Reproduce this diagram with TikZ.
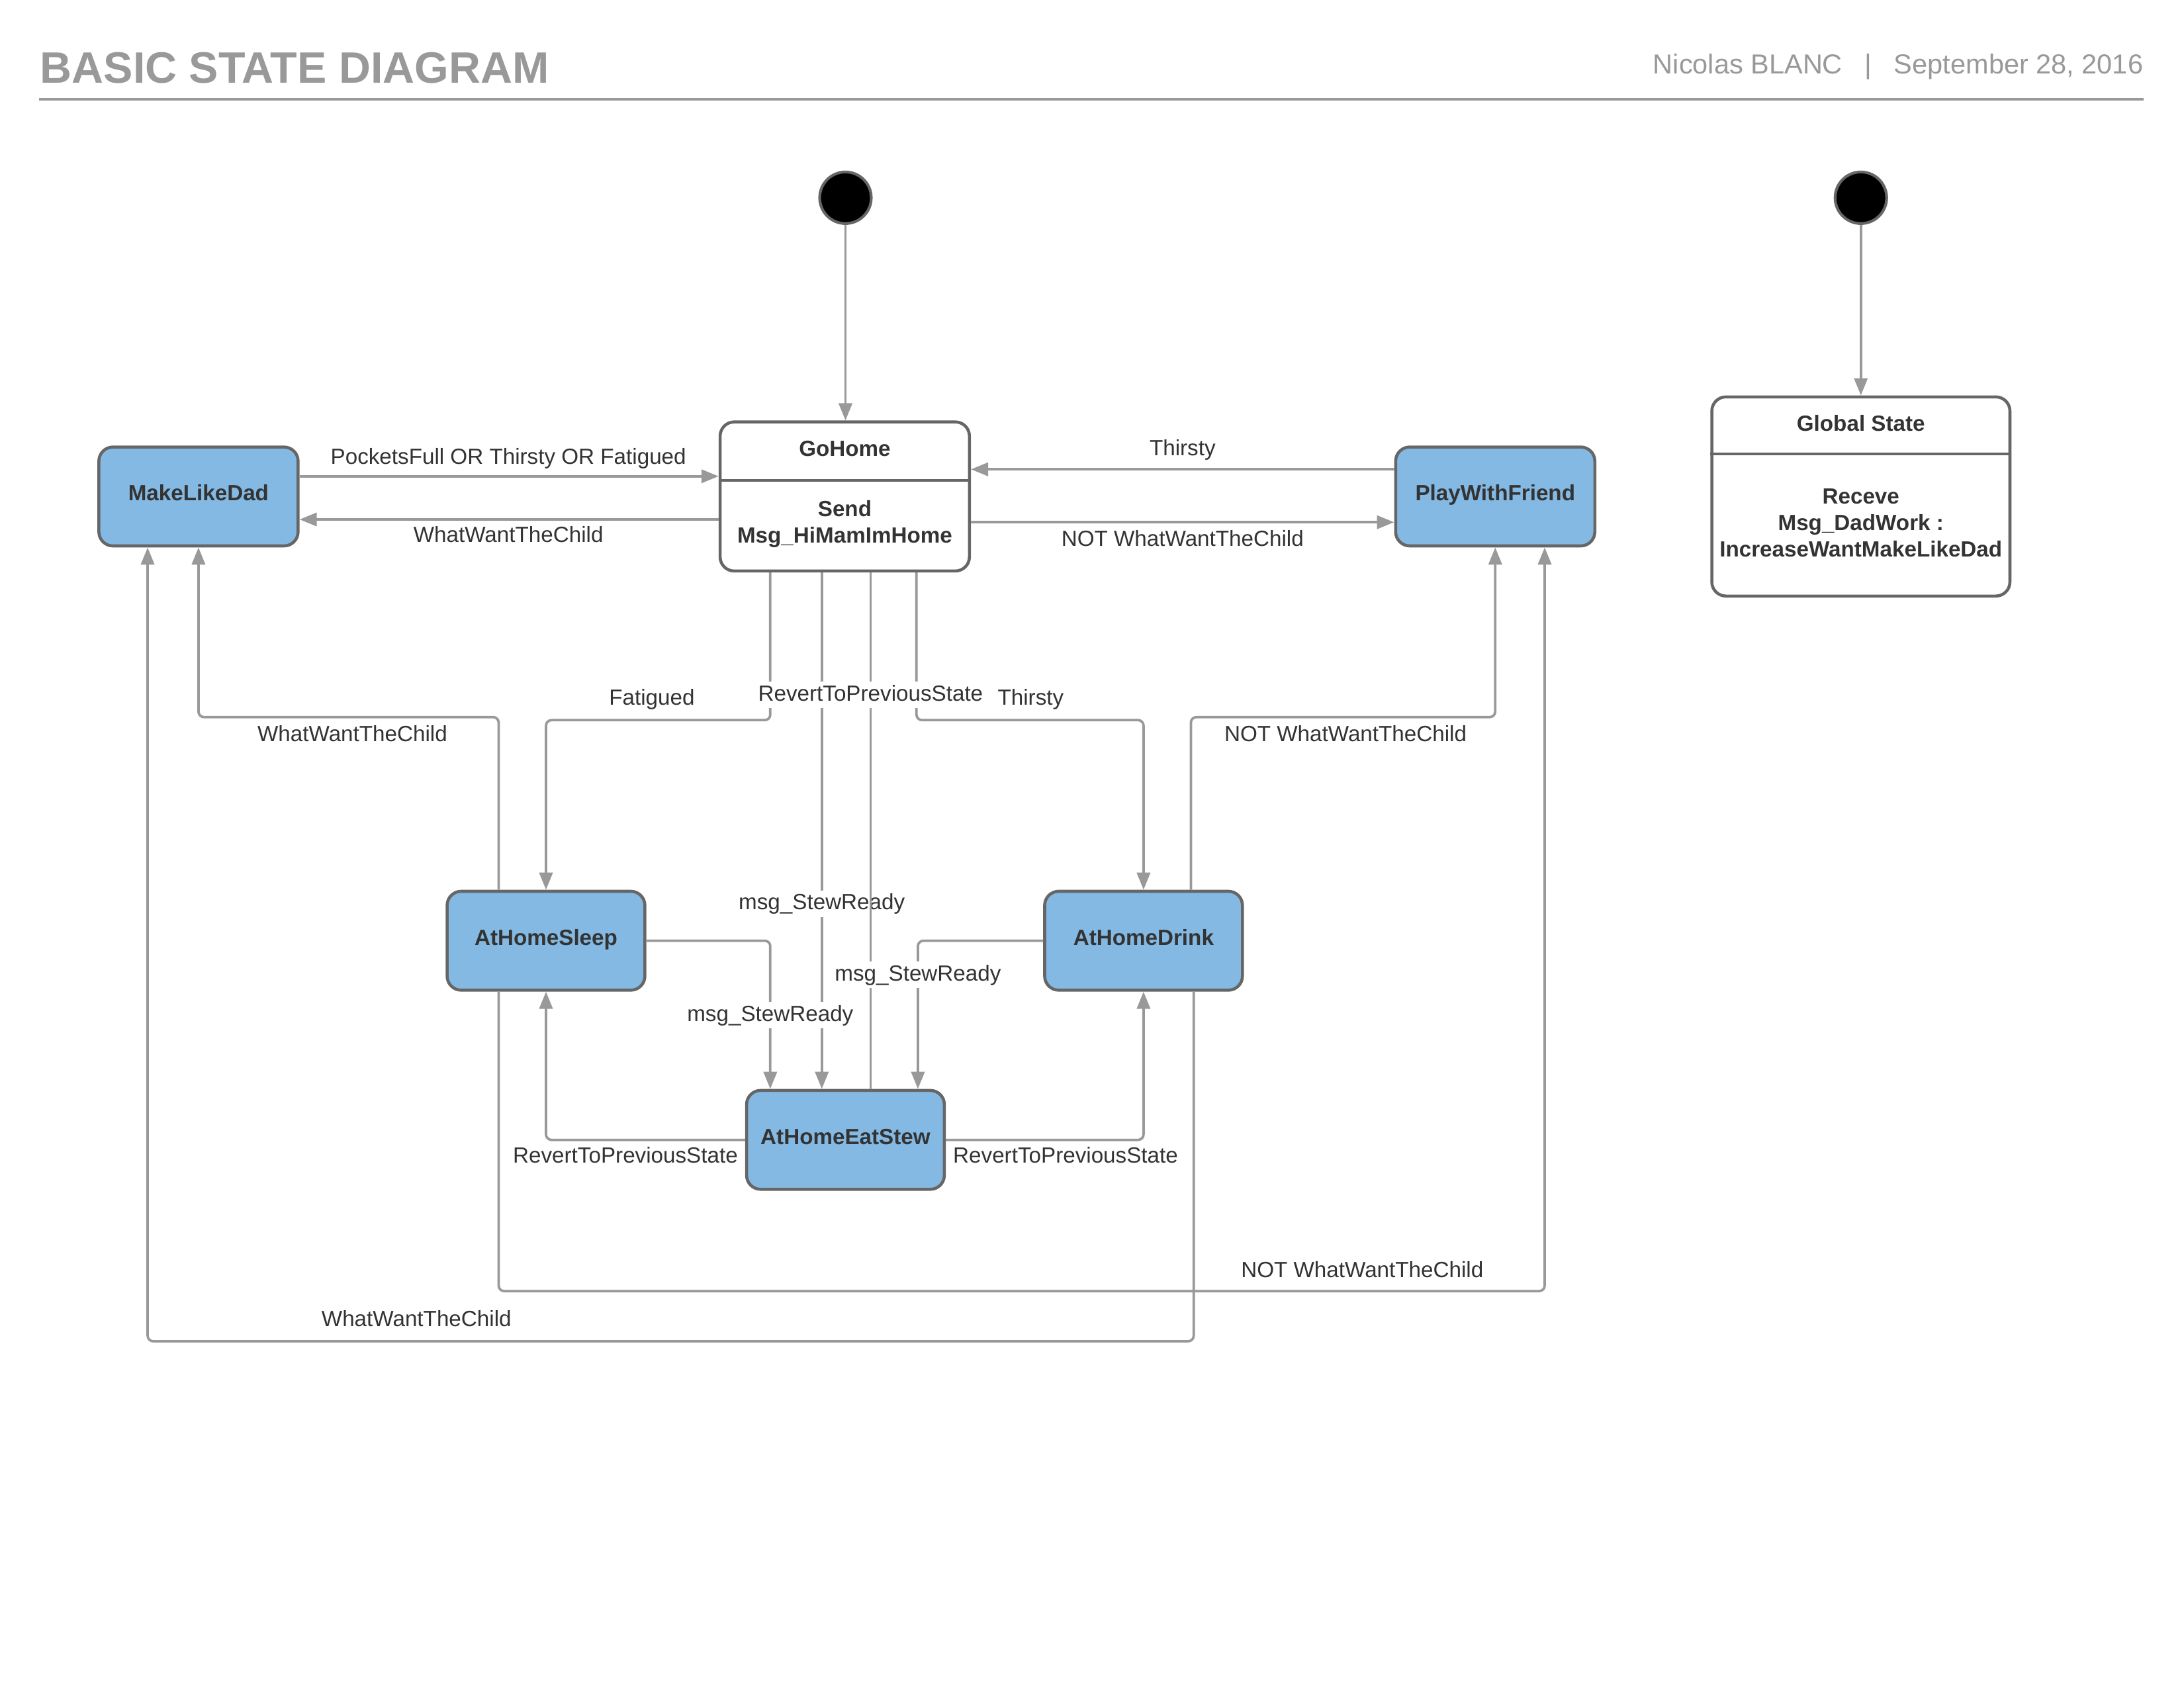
\documentclass[tikz,border=0pt]{standalone}
\usepackage{fontspec}
\setmainfont{Liberation Sans}
\usetikzlibrary{arrows.meta,calc}
\definecolor{conn}{HTML}{999999}
\definecolor{edge}{HTML}{666666}
\definecolor{statefill}{HTML}{83B9E3}
\definecolor{ink}{HTML}{333333}
\definecolor{head}{HTML}{999999}

\begin{document}
\begin{tikzpicture}[x=0.17818mm,y=-0.17818mm,
  line join=round,
  state/.style={draw=edge, line width=1.1pt, fill=statefill, rounded corners=1.8mm,
    inner sep=0pt, minimum height=12.65mm, font=\bfseries\fontsize{8}{9.6}\selectfont, text=ink,
    text height=5.8pt, text depth=2.6pt},
  panel/.style={draw=edge, line width=1.1pt, fill=white, rounded corners=1.8mm, inner sep=0pt},
  ptext/.style={font=\bfseries\fontsize{8}{9.6}\selectfont, text=ink, align=center, inner sep=0pt},
  trans/.style={draw=conn, line width=0.9pt, rounded corners=0.7mm,
    -{Triangle[length=2.2mm,width=1.7mm]}},
  plain/.style={draw=conn, line width=0.9pt, rounded corners=0.7mm},
  lbl/.style={font=\fontsize{8}{9.6}\selectfont, text=ink, fill=white, inner sep=1pt,
    text height=6pt, text depth=1.7pt, yshift=-1pt},
  start/.style={circle, fill=black, draw=edge, line width=1pt, minimum size=6.6mm, inner sep=0pt}]

\useasboundingbox (0,0) rectangle (1568,1212);

% header
\node[anchor=base west, inner sep=0pt, text=head, font=\bfseries\fontsize{16}{19}\selectfont]
  (ttl) at (28.5,59.4) {BASIC STATE DIAGRAM};
\node[anchor=base east, inner sep=0pt, text=head, font=\fontsize{10}{12}\selectfont]
  (date) at (1539,53.2) {September 28, 2016};
\node[anchor=base, inner sep=0pt, text=head, font=\fontsize{10}{12}\selectfont]
  (sep) at (1341.5,53.2) {|};
\node[anchor=base west, inner sep=0pt, text=head, font=\fontsize{10}{12}\selectfont]
  (author) at (1186.5,53.2) {Nicolas BLANC};
\draw[head, line width=1pt] (28,71.3) coordinate (r1) -- (1539,71.3) coordinate (r2);

% initial pseudo-states
\node[start] (i1) at (607,142) {};
\node[start] (i2) at (1336,142) {};

% composite boxes
\node[panel, minimum width=31.89mm, minimum height=19.07mm] (gohome) at (606.5,356.5) {};
\draw[edge, line width=1.1pt] ($(gohome.north west)+(0,43)$) coordinate (gd1) -- ($(gohome.north east)+(0,43)$) coordinate (gd2);
\node[ptext] (gohomeT) at (606.5,322) {GoHome};
\node[ptext] (gohomeB) at (606.5,376.5) {Send\\Msg\_HiMamImHome};

\node[panel, minimum width=38.13mm, minimum height=25.48mm] (global) at (1336,356.5) {};
\draw[edge, line width=1.1pt] ($(global.north west)+(0,42)$) coordinate (gs1) -- ($(global.north east)+(0,42)$) coordinate (gs2);
\node[ptext] (globalT) at (1336,304) {Global State};
\node[ptext] (globalB) at (1336,375.5) {Receve\\Msg\_DadWork :\\IncreaseWantMakeLikeDad};

% simple states
\node[state, minimum width=25.48mm] (mld) at (142.5,356.5) {MakeLikeDad};
\node[state, minimum width=25.48mm] (pwf) at (1073.5,356.5) {PlayWithFriend};
\node[state, minimum width=25.30mm] (sleep) at (392,675.5) {AtHomeSleep};
\node[state, minimum width=25.30mm] (drink) at (821,675.5) {AtHomeDrink};
\node[state, minimum width=25.30mm] (stew) at (607,818.5) {AtHomeEatStew};

% transitions
\draw[trans] (i1) -- (i1 |- gohome.north);
\draw[trans] (i2) -- (i2 |- global.north);

\coordinate (a1) at ($(mld.east)+(0,-14.5)$);
\draw[trans] (a1) -- (a1 -| gohome.west);
\coordinate (a2) at ($(gohome.west)+(0,16.5)$);
\draw[trans] (a2) -- (a2 -| mld.east);
\coordinate (a3) at ($(pwf.west)+(0,-19.5)$);
\draw[trans] (a3) -- (a3 -| gohome.east);
\coordinate (a4) at ($(gohome.east)+(0,18.5)$);
\draw[trans] (a4) -- (a4 -| pwf.west);

\coordinate (b1) at ($(gohome.south)+(-53.5,0)$);
\draw[trans] (b1) -- ++(0,106) -| (sleep.north);
\coordinate (b2) at ($(gohome.south)+(-16.5,0)$);
\draw[trans] (b2) -- (b2 |- stew.north);
\node[lbl] (l10) at (590,647) {msg\_StewReady};
\coordinate (b3) at ($(stew.north)+(18,0)$);
\draw[plain] (b3) -- (b3 |- gohome.south);
\coordinate (b4) at ($(gohome.south)+(51.5,0)$);
\draw[trans] (b4) -- ++(0,106) -| (drink.north);

\coordinate (c1) at ($(sleep.north)+(-34,0)$);
\draw[trans] (c1) -- ++(0,-124) -| (mld.south);
\coordinate (c2) at ($(drink.north)+(34,0)$);
\draw[trans] (c2) -- ++(0,-124) -| (pwf.south);

\coordinate (d1) at ($(stew.north)+(-54,0)$);
\draw[trans] (sleep.east) -| (d1);
\coordinate (d2) at ($(stew.north)+(52,0)$);
\draw[trans] (drink.west) -| (d2);
\draw[trans] (stew.west) -| (sleep.south);
\draw[trans] (stew.east) -| (drink.south);

\coordinate (e1) at ($(sleep.south)+(-34,0)$);
\coordinate (e2) at ($(pwf.south)+(35.5,0)$);
\draw[trans] (e1) -- ++(0,215) -| (e2);
\coordinate (f1) at ($(drink.south)+(36,0)$);
\coordinate (f2) at ($(mld.south)+(-36.5,0)$);
\draw[trans] (f1) -- ++(0,251) -| (f2);

% transition labels
\node[lbl] (l1) at (365,327) {PocketsFull OR Thirsty OR Fatigued};
\node[lbl] (l2) at (365,383) {WhatWantTheChild};
\node[lbl] (l3) at (849,321) {Thirsty};
\node[lbl] (l4) at (849,386) {NOT WhatWantTheChild};
\node[lbl] (l5) at (468,500) {Fatigued};
\node[lbl] (l6) at (625,497) {RevertToPreviousState};
\node[lbl] (l7) at (740,500) {Thirsty};
\node[lbl] (l8) at (253,526) {WhatWantTheChild};
\node[lbl] (l9) at (966,526) {NOT WhatWantTheChild};
\node[lbl] (l11) at (659,698) {msg\_StewReady};
\node[lbl] (l12) at (553,727) {msg\_StewReady};
\node[lbl] (l13) at (449,829) {RevertToPreviousState};
\node[lbl] (l14) at (765,829) {RevertToPreviousState};
\node[lbl] (l15) at (978,911) {NOT WhatWantTheChild};
\node[lbl] (l16) at (299,946) {WhatWantTheChild};
\end{tikzpicture}
\end{document}
